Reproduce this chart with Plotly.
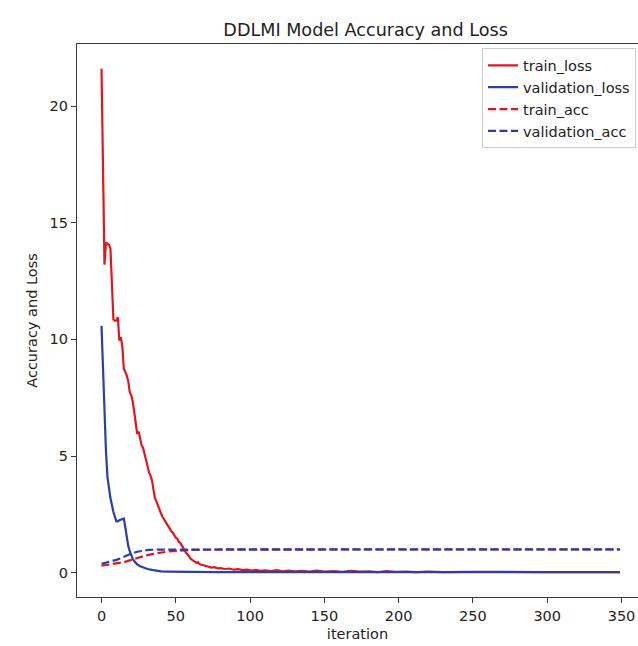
import plotly.graph_objects as go

# ---- data ----
train_loss_x = [0, 2, 3, 5, 6, 7, 8, 9, 10, 11, 12, 13, 14, 15, 16, 17, 18, 19, 20, 21, 22, 23, 24,
                25, 26, 27, 28, 29, 30, 31, 32, 33, 34, 35, 36, 37, 38, 39, 40, 41, 42, 43, 44, 45,
                46, 47, 48, 49, 50, 51, 52, 53, 54, 55, 56, 57, 58, 59, 60, 61, 62, 63, 64, 65, 66,
                68, 70, 72, 74, 76, 78, 80, 83, 86, 89, 92, 95, 98, 101, 104, 107, 110, 114, 118,
                122, 126, 130, 135, 140, 145, 150, 156, 162, 168, 174, 180, 186, 192, 198, 205,
                212, 220, 230, 245, 260, 280, 300, 320, 340, 349]
train_loss = [21.6, 13.2, 14.15, 14.05, 13.9, 12.4, 10.85, 10.8, 10.8, 10.95, 9.95, 10.1, 9.7, 8.75,
              8.6, 8.45, 8.2, 7.75, 7.6, 7.35, 6.9, 6.5, 5.95, 6.05, 5.7, 5.45, 5.35, 5.05, 4.85,
              4.6, 4.3, 4.15, 3.95, 3.55, 3.2, 3.05, 2.85, 2.7, 2.55, 2.4, 2.3, 2.2, 2.05, 2.0,
              1.9, 1.78, 1.72, 1.6, 1.5, 1.46, 1.32, 1.28, 1.16, 1.02, 0.95, 0.84, 0.78, 0.66,
              0.6, 0.55, 0.5, 0.46, 0.42, 0.45, 0.36, 0.33, 0.3, 0.28, 0.22, 0.24, 0.19, 0.2,
              0.16, 0.18, 0.13, 0.15, 0.11, 0.13, 0.09, 0.12, 0.08, 0.1, 0.07, 0.11, 0.06, 0.09,
              0.06, 0.08, 0.05, 0.09, 0.05, 0.07, 0.04, 0.08, 0.05, 0.06, 0.03, 0.07, 0.04, 0.05,
              0.03, 0.05, 0.03, 0.04, 0.03, 0.035, 0.03, 0.03, 0.025, 0.025]

val_loss_x = [0, 1, 2, 3, 4, 5, 6, 7, 8, 10, 11, 12, 13, 14, 15, 16, 17, 18, 19, 20, 21, 22, 24,
              26, 28, 31, 34, 37, 40, 45, 50, 60, 80, 100, 150, 200, 250, 300, 349]
val_loss = [10.58, 8.5, 6.6, 5.2, 4.1, 3.5, 3.2, 2.9, 2.6, 2.2, 2.2, 2.25, 2.28, 2.3, 2.32, 1.95,
            1.5, 1.15, 0.92, 0.74, 0.6, 0.5, 0.36, 0.28, 0.22, 0.16, 0.12, 0.09, 0.06, 0.05, 0.04,
            0.035, 0.03, 0.03, 0.025, 0.02, 0.02, 0.02, 0.02]

train_acc_x = [0, 5, 10, 15, 20, 25, 30, 35, 40, 45, 50, 55, 60, 70, 80, 100, 150, 200, 250, 300, 349]
train_acc = [0.30, 0.34, 0.38, 0.45, 0.55, 0.66, 0.74, 0.81, 0.87, 0.91, 0.94, 0.96, 0.975, 0.985,
             0.99, 0.99, 0.995, 0.995, 0.995, 0.995, 0.995]

val_acc_x = [0, 5, 10, 13, 16, 20, 24, 28, 32, 38, 50, 100, 150, 200, 250, 300, 349]
val_acc = [0.38, 0.45, 0.55, 0.62, 0.72, 0.82, 0.9, 0.95, 0.98, 0.99, 0.995, 1.0, 1.0, 1.0, 1.0,
           1.0, 1.0]

x_ticks = [0, 50, 100, 150, 200, 250, 300, 350]
y_ticks = [0, 5, 10, 15, 20]

RED = "#e3161d"
BLUE = "#2b3fa6"
DASH = "8px,3.5px"
FONT = "DejaVu Sans"

fig = go.Figure()
fig.add_trace(go.Scatter(x=train_loss_x, y=train_loss, mode="lines", name="train_loss",
                         line=dict(color=RED, width=2.2)))
fig.add_trace(go.Scatter(x=val_loss_x, y=val_loss, mode="lines", name="validation_loss",
                         line=dict(color=BLUE, width=2.2)))
fig.add_trace(go.Scatter(x=train_acc_x, y=train_acc, mode="lines", name="train_acc",
                         line=dict(color=RED, width=2.2, dash=DASH)))
fig.add_trace(go.Scatter(x=val_acc_x, y=val_acc, mode="lines", name="validation_acc",
                         line=dict(color=BLUE, width=2.2, dash=DASH)))

axis_common = dict(showgrid=False, zeroline=False, showline=True, linecolor="#3a3a3a",
                   linewidth=1.3, ticks="outside", ticklen=5, tickwidth=1.2,
                   tickcolor="#3a3a3a", tickfont=dict(family=FONT, size=14.5, color="#222"))

fig.update_layout(
    width=638, height=646,
    margin=dict(l=77, r=0, t=44, b=49),
    paper_bgcolor="white", plot_bgcolor="white",
    font=dict(family=FONT, size=14.5, color="#222"),
    title=dict(text="DDLMI Model Accuracy and Loss", x=0.573, xref="container", xanchor="center",
               y=1 - 30 / 646, yref="container", yanchor="middle",
               font=dict(family=FONT, size=17.6, color="#222")),
    xaxis=dict(range=[-16.5, 361.1], tickvals=x_ticks, mirror=True,
               title=dict(text="iteration", standoff=6, font=dict(family=FONT, size=14.5)),
               **axis_common),
    yaxis=dict(range=[-1.04, 22.66], tickvals=y_ticks, mirror=False,
               title=dict(text="Accuracy and Loss", standoff=8, font=dict(family=FONT, size=14.5)),
               **axis_common),
    legend=dict(x=0.9964, y=0.992, xanchor="right", yanchor="top",
                bgcolor="rgba(255,255,255,0.85)", bordercolor="#cccccc", borderwidth=1,
                font=dict(family=FONT, size=14.5, color="#222")),
    showlegend=True,
)

fig.write_html("out.html")
